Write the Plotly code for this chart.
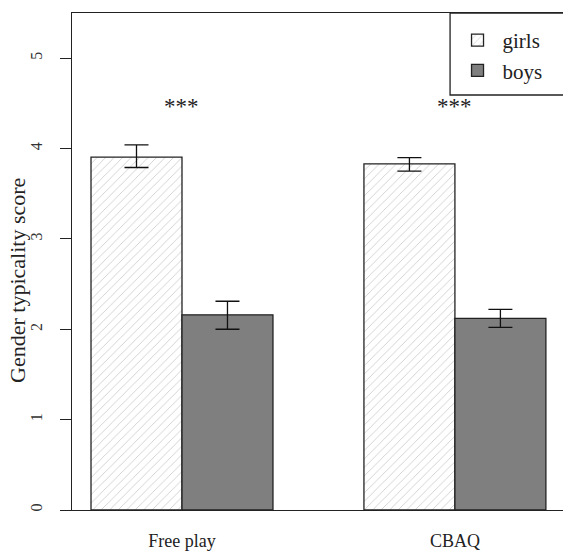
import plotly.graph_objects as go

categories = ["Free play", "CBAQ"]
girls = [3.905, 3.83]
girls_hi = [4.04, 3.90]
girls_lo = [3.79, 3.75]
boys = [2.16, 2.12]
boys_hi = [2.31, 2.22]
boys_lo = [2.00, 2.02]
stars = ["***", "***"]
yticks = [0, 1, 2, 3, 4, 5]
y_title = "Gender typicality score"

FONT = "Liberation Serif, Times New Roman, serif"

fig = go.Figure()
fig.add_trace(go.Bar(
    x=categories, y=girls, name="girls",
    marker=dict(color="white",
                line=dict(color="#222", width=1.3),
                pattern=dict(shape="/", fgcolor="#a0a0a0", bgcolor="white",
                             size=6, solidity=0.15, fillmode="overlay")),
    error_y=dict(type="data", symmetric=False,
                 array=[h - v for h, v in zip(girls_hi, girls)],
                 arrayminus=[v - l for l, v in zip(girls_lo, girls)],
                 color="#111", thickness=1.3, width=12),
))
fig.add_trace(go.Bar(
    x=categories, y=boys, name="boys",
    marker=dict(color="#7f7f7f", line=dict(color="#222", width=1.3)),
    error_y=dict(type="data", symmetric=False,
                 array=[h - v for h, v in zip(boys_hi, boys)],
                 arrayminus=[v - l for l, v in zip(boys_lo, boys)],
                 color="#111", thickness=1.3, width=12),
))

for c, s in zip(categories, stars):
    fig.add_annotation(x=c, y=4.47, text=s, showarrow=False,
                       font=dict(family=FONT, size=23, color="#222"),
                       xanchor="center", yanchor="middle")

# y-axis title (placed as in the reference, slightly below plot centre)
fig.add_annotation(xref="paper", yref="paper", x=-0.110, y=0.463,
                   text=y_title, textangle=-90, showarrow=False,
                   xanchor="center", yanchor="middle",
                   font=dict(family=FONT, size=22, color="#222"))

# legend frame extending past right edge
fig.add_shape(type="rect", xref="paper", yref="paper",
              x0=0.770, x1=1.02, y0=0.835, y1=1.0,
              line=dict(color="#222", width=1.3), fillcolor="rgba(0,0,0,0)")

fig.update_layout(
    width=563, height=551,
    margin=dict(l=72, r=0, t=13, b=41),
    paper_bgcolor="white", plot_bgcolor="white",
    barmode="group", bargap=1/3, bargroupgap=0,
    font=dict(family=FONT, color="#222"),
    showlegend=True,
    legend=dict(x=0.775, y=0.986, xanchor="left", yanchor="top",
                bgcolor="rgba(0,0,0,0)", borderwidth=0,
                font=dict(family=FONT, size=21, color="#222"),
                itemwidth=40, tracegroupgap=0),
    xaxis=dict(range=[-0.403, 1.396], showline=True, mirror=True,
               linecolor="#222", linewidth=1.3, ticks="", showgrid=False,
               tickfont=dict(family=FONT, size=18, color="#222"),
               ticklabelstandoff=14, zeroline=False, automargin=False),
    yaxis=dict(range=[0, 5.5], tickvals=yticks, showline=True,
               linecolor="#222", linewidth=1.3, ticks="outside", ticklen=11,
               tickcolor="#222", tickwidth=1.3, showgrid=False, zeroline=False,
               tickangle=-90, ticklabelstandoff=11, automargin=False,
               tickfont=dict(family=FONT, size=16, color="#333")),
)

fig.write_html("out.html", config={"displayModeBar": False},
               post_script="document.body.style.margin='0';document.body.style.overflow='hidden';")
